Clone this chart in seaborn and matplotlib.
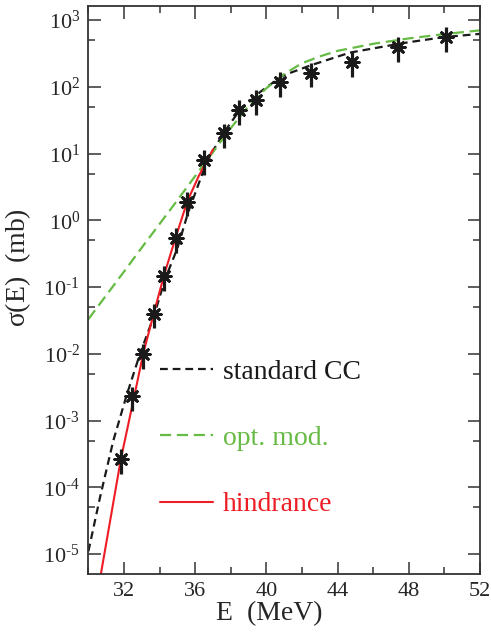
import math
import matplotlib
matplotlib.use("Agg")
import matplotlib.pyplot as plt
import matplotlib.ticker as mticker
import seaborn as sns

# Measured fusion cross sections (E in MeV, sigma in mb) with errors
E_exp = [31.83, 32.45, 33.08, 33.69, 34.25, 34.90, 35.55, 36.50,
         37.63, 38.46, 39.40, 40.76, 42.50, 44.83, 47.40, 50.10]
sig_exp = [2.7e-4, 2.3e-3, 1.0e-2, 4.0e-2, 0.146, 0.54, 1.9, 7.9,
           20, 45, 64, 119, 163, 236, 395, 557]
err_exp = [1.1e-4, 9e-4, 4e-3, 1.6e-2, 0.06, 0.22, 0.75, 3.2,
           8, 18, 26, 48, 65, 95, 160, 220]

# Standard coupled-channels calculation
E_cc = [30.0, 30.66, 31.4, 32.15, 32.9, 33.7, 34.3, 35.0, 35.6, 36.45,
        37.0, 37.63, 38.46, 39.66, 40.9, 42.5, 44.7, 46.7, 48.0, 50.0, 52.0]
sig_cc = [1.1e-5, 7.2e-5, 5e-4, 2.4e-3, 1.0e-2, 3.8e-2, 0.13, 0.38, 1.3, 5.4,
          11, 21, 43, 84, 146, 210, 325, 405, 465, 555, 620]

# Optical-model calculation
E_om = [30.0, 31.0, 32.0, 33.0, 34.0, 35.0, 36.0, 37.0, 38.0, 39.0,
        40.0, 41.0, 42.0, 43.0, 44.0, 46.0, 48.0, 50.0, 52.0]
sig_om = [0.033, 0.075, 0.17, 0.39, 0.88, 2.0, 4.6, 10.5, 24, 52,
          95, 155, 225, 285, 345, 440, 530, 615, 700]

# Calculation including the hindrance
E_hi = [30.6, 31.83, 32.45, 33.08, 33.69, 34.25, 34.9, 35.55, 36.2, 37.0]
sig_hi = [3.5e-6, 2.7e-4, 1.6e-3, 1.0e-2, 4.2e-2, 0.15, 0.55, 1.9, 4.6, 11.5]

labels = ["standard CC", "opt. mod.", "hindrance"]
x_major = [32, 36, 40, 44, 48, 52]
x_minor = [30, 34, 38, 42, 46, 50]
y_major = [1e-5, 1e-4, 1e-3, 1e-2, 1e-1, 1e0, 1e1, 1e2, 1e3]
y_minor = [5e-6, 5e-5, 5e-4, 5e-3, 5e-2, 5e-1, 5e0, 5e1, 5e2]
c_cc, c_om, c_hi = "#1a1a1a", "#66bb44", "#ee1c24"

sns.set_style("ticks")
plt.rcParams["font.family"] = ["Liberation Serif", "DejaVu Serif"]
plt.rcParams["mathtext.fontset"] = "custom"
plt.rcParams["mathtext.rm"] = "Liberation Serif"


def power_label(v):
    # exponent written with a short hyphen, as in the plain-text style
    exp = round(math.log10(v))
    sign = "\u2010" if exp < 0 else ""
    return r"$\mathregular{10^{%s%d}}$" % (sign, abs(exp))


fig = plt.figure(figsize=(4.91, 6.33), dpi=100)
ax = fig.add_axes([0.180, 0.0932, 0.7976, 0.8973])

sns.lineplot(x=E_cc, y=sig_cc, ax=ax, color=c_cc, lw=1.6,
             linestyle=(0, (3.5, 2.2)), label=labels[0])
sns.lineplot(x=E_om, y=sig_om, ax=ax, color=c_om, lw=1.6,
             linestyle=(0, (5, 2.6)), label=labels[1])
sns.lineplot(x=E_hi, y=sig_hi, ax=ax, color=c_hi, lw=1.5,
             linestyle="-", label=labels[2])

ax.errorbar(E_exp, sig_exp, yerr=err_exp, fmt="none", ecolor=c_cc,
            elinewidth=2.3, capsize=0, zorder=4)
sns.scatterplot(x=E_exp, y=sig_exp, ax=ax, marker=(8, 2, 0), s=95,
                color=c_cc, edgecolor=c_cc, linewidth=2.0, zorder=5)

ax.set_yscale("log")
ax.set_xlim(30, 52)
ax.set_ylim(5.03e-6, 1.62e3)

ax.xaxis.set_major_locator(mticker.FixedLocator(x_major))
ax.xaxis.set_minor_locator(mticker.FixedLocator(x_minor))
ax.yaxis.set_major_locator(mticker.FixedLocator(y_major))
ax.yaxis.set_minor_locator(mticker.FixedLocator(y_minor))
ax.xaxis.set_major_formatter(mticker.FixedFormatter([str(v) for v in x_major]))
ax.yaxis.set_major_formatter(mticker.FixedFormatter([power_label(v) for v in y_major]))
ax.xaxis.set_minor_formatter(mticker.NullFormatter())
ax.yaxis.set_minor_formatter(mticker.NullFormatter())

ax.tick_params(which="both", direction="in", top=True, right=True,
               color="#333333", width=1.1)
ax.tick_params(which="major", length=9, labelsize=16, pad=6)
ax.tick_params(which="minor", length=5)
for s in ax.spines.values():
    s.set_linewidth(1.3)
    s.set_color("#333333")

ax.set_xlabel("E  (MeV)", fontsize=20)
ax.set_ylabel(r"$\mathregular{\sigma}$(E)  (mb)", fontsize=20)
ax.xaxis.set_label_coords(0.462, -0.048)
ax.yaxis.set_label_coords(-0.141, 0.54)

leg = ax.legend(loc="upper left", bbox_to_anchor=(0.184, 0.378), frameon=False,
                fontsize=20, handlelength=1.9, handletextpad=0.35,
                labelspacing=1.47, borderpad=0, borderaxespad=0,
                labelcolor="linecolor")

fig.savefig("out.png", dpi=100)
